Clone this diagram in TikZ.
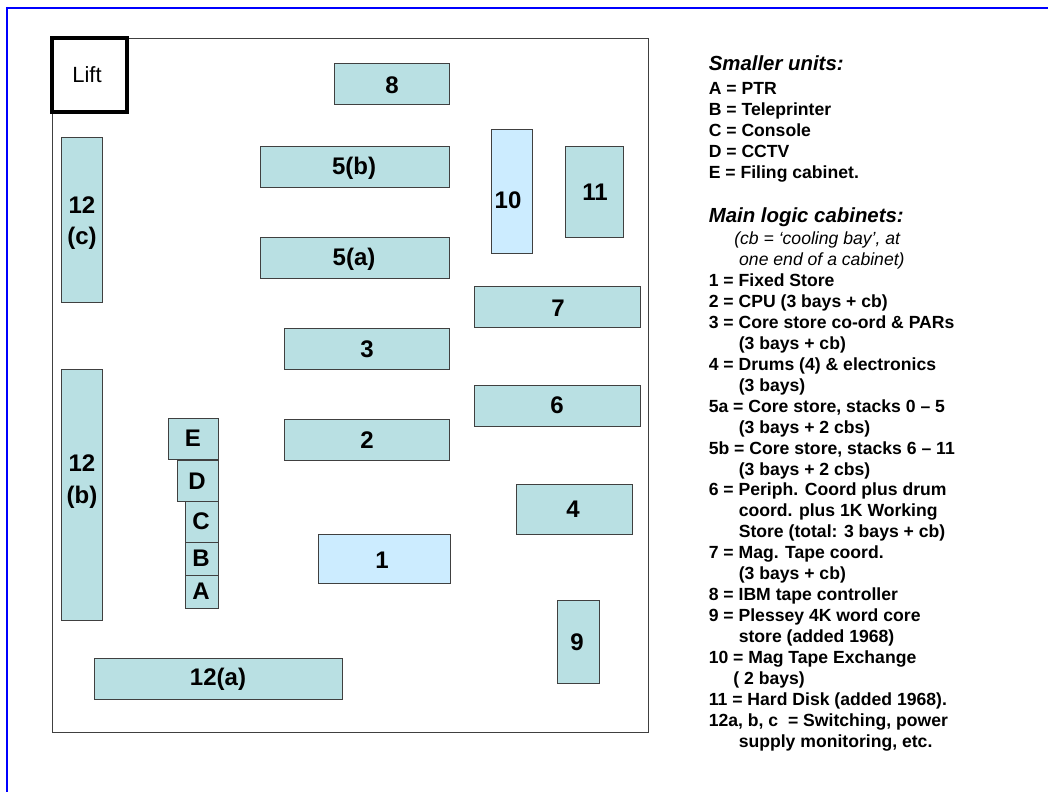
\documentclass[tikz,border=0pt]{standalone}
\usepackage{fontspec}
\setmainfont{Liberation Sans}
\definecolor{cabteal}{RGB}{185,224,227}
\definecolor{cablight}{RGB}{204,236,255}
\definecolor{frameblue}{RGB}{0,0,255}
\tikzset{
  x=0.75pt,y=-0.75pt,
  cab/.style={draw=black!75,line width=0.6pt,fill=cabteal,inner sep=0pt,outer sep=0pt,anchor=north west,xshift=0.3pt,yshift=-0.3pt},
  cabl/.style={cab,fill=cablight},
  lab/.style={inner sep=0pt,outer sep=0pt,align=center,font=\fontsize{18}{23.6}\selectfont\bfseries},
  legend/.style={anchor=north west,inner sep=0pt,align=left,font=\fontsize{13.2}{15.71}\selectfont\bfseries},
  legendh/.style={anchor=north west,inner sep=0pt,font=\fontsize{15.3}{18}\selectfont\bfseries\itshape},
  legendi/.style={anchor=north west,inner sep=0pt,align=left,font=\fontsize{13.2}{15.71}\selectfont\itshape},
}
\newcommand{\cabbox}[8][cab]{%
  \node[#1,minimum width=#4*0.75pt,minimum height=#5*0.75pt] (#2) at (#3) {};
  \node[lab] (#2t) at (#6,#7) {#8};}
\newcommand{\ind}{\hspace*{22.5pt}}
\begin{document}
\begin{tikzpicture}
\useasboundingbox (0,0) rectangle (1048,792);
\fill[white] (0,0) rectangle (1048,792);
\draw[frameblue,line width=1.5pt] (7,8) -- (1048,8);
\draw[frameblue,line width=1.5pt] (7,7) -- (7,792);
\node[draw=black!75,line width=0.7pt,minimum width=596*0.75pt,minimum height=694*0.75pt,anchor=north west,inner sep=0pt,outer sep=0pt] (room) at (52,38) {};
\node[draw=black,line width=3pt,fill=white,minimum width=75*0.75pt,minimum height=74*0.75pt,anchor=north west,inner sep=0pt,outer sep=0pt] (lift) at (52,38) {};
\node[inner sep=0pt,font=\fontsize{16.5}{20}\selectfont] (liftt) at (87,75) {Lift};
\cabbox{c8}{334,63}{115}{41}{392}{85}{8}
\cabbox{c5b}{260,146}{189}{41}{354}{168}{5(b)}
\cabbox{c5a}{260,237}{189}{41}{354}{259}{5(a)}
\cabbox{c3}{284,328}{165}{41}{367}{349}{3}
\cabbox{c2}{284,419}{165}{41}{367}{440}{2}
\cabbox[cabl]{c1}{318,534}{132}{49}{382}{560}{1}
\cabbox[cabl]{c10}{491,129}{41}{124}{508}{200}{10}
\cabbox{c11}{565,146}{58}{91}{595}{192}{11}
\cabbox{c7}{474,286}{166}{41}{558}{308}{7}
\cabbox{c6}{474,385}{166}{41}{557}{405}{6}
\cabbox{c4}{516,484}{116}{50}{573}{509}{4}
\cabbox{c9}{557,600}{42}{83}{577}{642}{9}
\cabbox{c12c}{61,137}{41}{165}{82}{223}{12\\(c)}
\cabbox{c12b}{61,369}{41}{251}{82}{481.5}{12\\(b)}
\cabbox{c12a}{94,658}{248}{41}{218}{679}{12(a)}
\cabbox{cE}{168,418}{50}{41}{193}{438}{E}
\cabbox{cD}{177,460}{41}{41}{197}{481}{D}
\cabbox{cC}{185,501}{33}{41}{201}{521}{C}
\cabbox{cB}{185,542}{33}{33}{201}{558}{B}
\cabbox{cA}{185,575}{33}{33}{201}{591}{A}
\node[legendh] (h1) at (708.5,55) {Smaller units:};
\node[legend] (l1) at (708.5,82) {A = PTR\\B = Teleprinter\\C = Console\\D = CCTV\\E = Filing cabinet.};
\node[legendh] (h2) at (708.5,207) {Main logic cabinets:};
\node[legendi] (i1) at (734,231.5) {(cb = ‘cooling bay’, at\\\hspace*{3.7pt}one end of a cabinet)};
\node[legend] (l2) at (708.5,273.5) {1 = Fixed Store\\2 = CPU (3 bays + cb)\\3 = Core store co-ord \& PARs\\\ind(3 bays + cb)\\4 = Drums (4) \& electronics\\\ind(3 bays)\\5a = Core store, stacks 0 – 5\\\ind(3 bays + 2 cbs)\\5b = Core store, stacks 6 – 11\\\ind(3 bays + 2 cbs)\\6 = Periph. Coord plus drum\\\ind coord. plus 1K Working\\\ind Store (total: 3 bays + cb)\\7 = Mag. Tape coord.\\\ind(3 bays + cb)\\8 = IBM tape controller\\9 = Plessey 4K word core\\\ind store (added 1968)\\10 = Mag Tape Exchange\\\hspace*{18.5pt}( 2 bays)\\11 = Hard Disk (added 1968).\\12a, b, c\ \ = Switching, power\\\ind supply monitoring, etc.};
\end{tikzpicture}
\end{document}
